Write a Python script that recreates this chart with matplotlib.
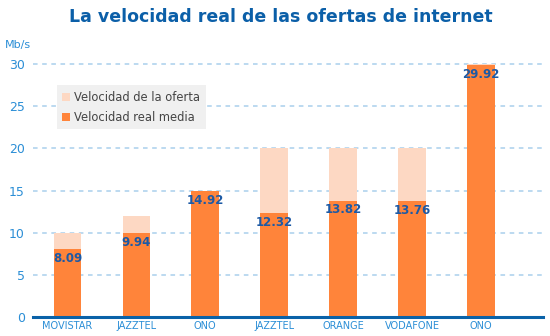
import matplotlib.pyplot as plt
import numpy as np

# Datos
operadores = ['MOVISTAR', 'JAZZTEL', 'ONO', 'JAZZTEL', 'ORANGE', 'VODAFONE', 'ONO']
oferta = [10, 12, 15, 20, 20, 20, 30]
real = [8.09, 9.94, 14.92, 12.32, 13.82, 13.76, 29.92]
etiquetas = ['8.09', '9.94', '14.92', '12.32', '13.82', '13.76', '29.92']

c_oferta = '#fdd8c3'
c_real = '#ff843a'
azul = '#0b5fa8'
azul_claro = '#2b8ed6'

fig = plt.figure(figsize=(5.5, 3.36), dpi=100)
ax = fig.add_axes([0.06, 0.0565, 0.927, 0.765])

x = np.arange(len(operadores))
ax.bar(x, oferta, width=0.4, color=c_oferta, label='Velocidad de la oferta', zorder=2)
ax.bar(x, real, width=0.4, color=c_real, label='Velocidad real media', zorder=3)

for xi, v, t in zip(x, real, etiquetas):
    ax.text(xi, v - 0.35, t, ha='center', va='top', fontsize=8.5,
            fontweight='bold', color='#1d5aa5', zorder=4)

ax.set_xlim(-0.5, 6.9)
ax.set_ylim(0, 30.5)
ax.set_yticks([0, 5, 10, 15, 20, 25, 30])
ax.yaxis.grid(True, linestyle=(0, (3, 3)), color='#a9cfec', linewidth=1.1, zorder=1)
ax.set_axisbelow(True)
for s in ['top', 'right', 'left']:
    ax.spines[s].set_visible(False)
ax.spines['bottom'].set_color('#0a62a8')
ax.spines['bottom'].set_linewidth(2.2)
ax.spines['bottom'].set_zorder(5)
ax.tick_params(axis='y', length=0, labelsize=9, labelcolor=azul_claro, pad=6)
ax.set_xticks(x)
ax.set_xticklabels(operadores, fontsize=7, color=azul_claro)
ax.tick_params(axis='x', length=0, pad=3)

fig.text(0.51, 0.95, 'La velocidad real de las ofertas de internet', ha='center',
         va='center', fontsize=12.5, fontweight='bold', color=azul)
fig.text(0.008, 0.865, 'Mb/s', ha='left', va='center', fontsize=8, color=azul_claro)

leg = ax.legend(loc='upper left', bbox_to_anchor=(0.035, 0.925), fontsize=8.3,
                frameon=True, handlelength=0.7, handleheight=0.7, handletextpad=0.3,
                borderpad=0.5, labelspacing=0.6, fancybox=False)
leg.get_frame().set_facecolor('#f0f0f0')
leg.get_frame().set_edgecolor('none')
leg.get_frame().set_alpha(1)
for t in leg.get_texts():
    t.set_color('#444444')

fig.savefig('out.png', dpi=100)
